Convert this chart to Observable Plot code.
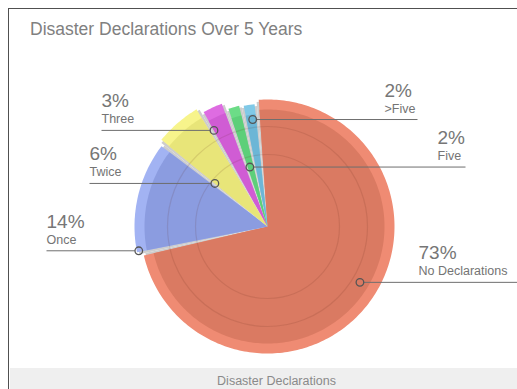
<!DOCTYPE html>
<html>
<head>
<meta charset="utf-8">
<script src="https://cdn.jsdelivr.net/npm/d3@7"></script>
<script src="https://cdn.jsdelivr.net/npm/@observablehq/plot@0.6"></script>
<style>
  html, body { margin: 0; padding: 0; background: #fff; }
  body { width: 517px; height: 389px; position: relative; overflow: hidden; font-family: "Liberation Sans", Arial, sans-serif; }
  #panel { position: absolute; left: 8px; top: 8px; width: 560px; height: 400px;
           border-left: 1.5px solid #505050; border-top: 1.5px solid #505050; }
  #chart { position: absolute; left: 0; top: 0; }
  #title { position: absolute; left: 30px; top: 21px; font-size: 17.5px; line-height: 1;
           color: #808080; white-space: nowrap; }
  #footer { position: absolute; left: 10px; top: 368px; width: 533px; height: 22px;
            background: #efefef; color: #8a8a8a; font-size: 12.5px; text-align: center;
            line-height: 26px; }
</style>
</head>
<body>
<div id="panel"></div>
<div id="chart"></div>
<div id="title">Disaster Declarations Over 5 Years</div>
<div id="footer">Disaster Declarations</div>
<script>
// Share of counties by number of disaster declarations over five years
const categories = ["No Declarations", "Once", "Twice", "Three", "Five", ">Five"];
const shares = [73, 14, 6, 3, 2, 2];
const shareLabels = ["73%", "14%", "6%", "3%", "2%", "2%"];

// Slice colours: inner body and lighter outer rim
const darkColors = ["#da7a62", "#8b9ce0", "#e8e579", "#d05cd4", "#5dcf79", "#6cb6d6"];
const lightColors = ["#ef8b73", "#a2b3f3", "#f7f48b", "#de6ce1", "#6cdc87", "#80c9e7"];

// Geometry of the pie and its callouts
const W = 517, H = 389;
const cx = 267, cy = 226;
const startDeg = -5;
const padRad = 0.036;
const outerR = [127, 133, 137, 131, 124, 123];
const rimWidth = 10;
const ringRadii = [72, 100];
const leaderT = [0.48, 0.03, 0.05, 0.1, 0.4, 0.6];
const leaderR = [108, 131, 68, 110, 62, 108];
const labelSide = ["right", "left", "left", "left", "right", "right"];
const labelX = [418, 46, 89, 101, 437, 384];
const lineEndX = [517, 46, 89, 101, 465, 417];

const start = startDeg * Math.PI / 180;
const arcs = d3.pie().sort(null).startAngle(start).endAngle(start + 2 * Math.PI)(shares);

const pt = (a, r) => ({x: cx + r * Math.sin(a), y: cy - r * Math.cos(a)});

function wedge(a0, a1, r) {
  const n = Math.max(4, Math.ceil((a1 - a0) / 0.02));
  const pts = [pt(0, 0)];
  for (let i = 0; i <= n; i++) pts.push(pt(a0 + (a1 - a0) * i / n, r));
  pts.push(pt(0, 0));
  return pts;
}

const marks = [];

// grey seams showing between the separated slices
arcs.forEach((a, i) => {
  marks.push(Plot.line(wedge(a.startAngle, a.endAngle, outerR[i] - 2), {
    x: "x", y: "y", fill: "#cdcdcd", stroke: "none"
  }));
});

// slices: lighter rim underneath, darker body on top
arcs.forEach((a, i) => {
  const a0 = a.startAngle + padRad / 2, a1 = a.endAngle - padRad / 2;
  marks.push(Plot.line(wedge(a0, a1, outerR[i]), {x: "x", y: "y", fill: lightColors[i], stroke: "none"}));
  marks.push(Plot.line(wedge(a0, a1, outerR[i] - rimWidth), {x: "x", y: "y", fill: darkColors[i], stroke: "none"}));
});

// faint concentric guide rings
ringRadii.forEach(r => {
  marks.push(Plot.dot([{x: cx, y: cy}], {x: "x", y: "y", r, fill: "none", stroke: "#5a2a1a", strokeOpacity: 0.13, strokeWidth: 1.2}));
});

// callouts
const callouts = arcs.map((a, i) => {
  const ang = a.startAngle + (a.endAngle - a.startAngle) * leaderT[i];
  const p = pt(ang, leaderR[i]);
  const left = labelSide[i] === "left";
  return {
    dx: p.x, dy: p.y,
    x1: left ? labelX[i] : p.x + 4,
    x2: left ? p.x - 4 : lineEndX[i],
    tx: labelX[i],
    share: shareLabels[i],
    name: categories[i]
  };
});

const font = "'Liberation Sans', Arial, sans-serif";
marks.push(Plot.link(callouts, {x1: "x1", x2: "x2", y1: "dy", y2: "dy", stroke: "#6e6e6e", strokeWidth: 1}));
marks.push(Plot.dot(callouts, {x: "dx", y: "dy", r: 3.8, fill: "none", stroke: "#555", strokeWidth: 1.3}));
marks.push(Plot.text(callouts, {
  x: "tx", y: d => d.dy - 23, text: "share", textAnchor: "start", lineAnchor: "bottom",
  fontSize: 19, fill: "#767676", fontFamily: font
}));
marks.push(Plot.text(callouts, {
  x: "tx", y: d => d.dy - 7, text: "name", textAnchor: "start", lineAnchor: "bottom",
  fontSize: 12.5, fill: "#747474", fontFamily: font
}));

const chart = Plot.plot({
  width: W, height: H,
  margin: 0,
  x: {domain: [0, W], range: [0, W], axis: null},
  y: {domain: [0, H], range: [0, H], axis: null},
  style: {background: "transparent", overflow: "visible"},
  marks
});
document.getElementById("chart").append(chart);
</script>
</body>
</html>
